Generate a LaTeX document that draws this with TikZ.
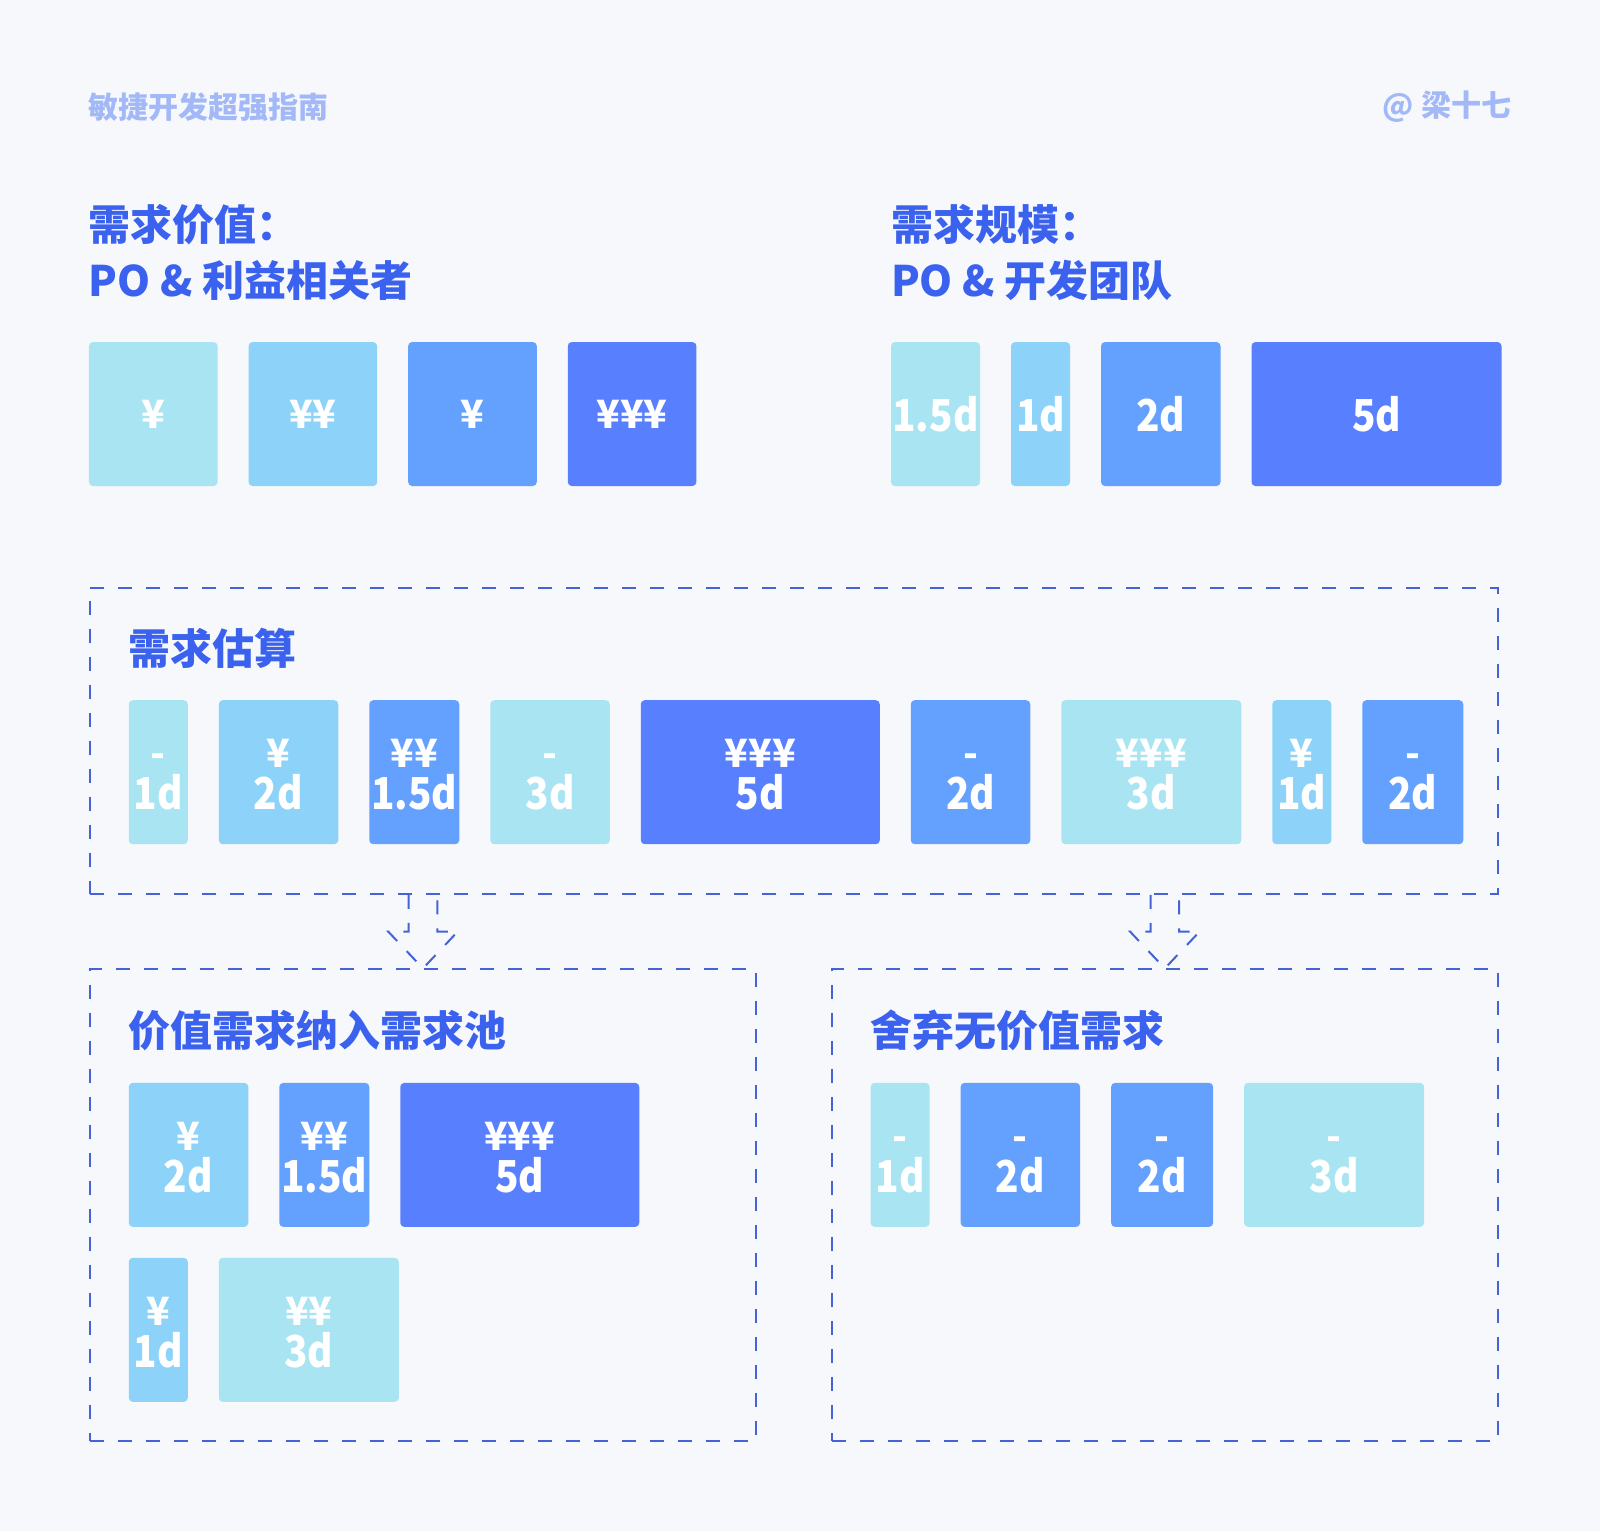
\documentclass[tikz,border=0pt]{standalone}
\usepackage{fontspec}
\setmainfont{Noto Sans CJK SC}
\newfontfamily\numfont{Noto Sans CJK SC}[FakeStretch=0.88]
\usetikzlibrary{positioning, fit, calc}

\definecolor{bgc}{HTML}{F7F8FC}
\definecolor{cyanc}{HTML}{A8E4F2}
\definecolor{skyc}{HTML}{8CD2F9}
\definecolor{midc}{HTML}{64A0FD}
\definecolor{deepc}{HTML}{587FFD}
\definecolor{titlec}{HTML}{3B62EE}
\definecolor{headc}{HTML}{A3B9F7}
\definecolor{linec}{HTML}{4463D6}

\newcommand\yenfont{\normalfont\bfseries\fontsize{39}{42}\selectfont}
\newcommand\lift{\rule{0pt}{34pt}}
\newcommand\twoline[2]{{\yenfont\lift#1}\\{\lift#2}}

\begin{document}
\begin{tikzpicture}[x=1.0204pt, y=-1.0204pt, node distance=30.6pt,
  every node/.style={font=\bfseries},
  blk/.style={fill=#1, rounded corners=4pt, text=white, inner sep=0pt, minimum height=144pt, align=center, font=\numfont\bfseries\fontsize{44}{42}\selectfont},
  frame/.style={draw=linec, line width=2pt, dash pattern=on 14pt off 14pt, inner sep=0pt},
  ttl/.style={text=titlec, font=\bfseries\fontsize{42}{56}\selectfont, inner sep=0pt, anchor=west},
  head/.style={text=headc, font=\bfseries\fontsize{30}{30}\selectfont, inner sep=0pt},
  wv/.style={minimum width=128.6pt},
  w1/.style={minimum width=59pt},
  w15/.style={minimum width=90pt},
  w2/.style={minimum width=119.5pt},
  w3/.style={minimum width=180pt},
  w5/.style={minimum width=239pt}]

% Background
\fill[bgc] (0,0) rectangle (1568,1500.4);
\useasboundingbox (0,0) rectangle (1568,1500.4);

% Header
\node (guide) [head, anchor=west] at (87,105) {敏捷开发超强指南};
\node (author) [head, anchor=east] at (1481,105) {@ 梁十七};

% Value
\node (valt) [ttl] at (87,220) {需求价值：};
\node (valt2) [ttl] at (87,275) {PO \& 利益相关者};
\node (v1) [blk=cyanc, wv, anchor=north west] at (87,335) {\yenfont ¥};
\node (v2) [blk=skyc, wv, right=of v1] {\yenfont ¥¥};
\node (v3) [blk=midc, wv, right=of v2] {\yenfont ¥};
\node (v4) [blk=deepc, wv, right=of v3] {\yenfont ¥¥¥};

% Size
\node (sizet) [ttl] at (873,220) {需求规模：};
\node (sizet2) [ttl] at (873,275) {PO \& 开发团队};
\node (s1) [blk=cyanc, minimum width=89pt, anchor=north west] at (873,335) {1.5d};
\node (s2) [blk=skyc, w1, right=of s1] {1d};
\node (s3) [blk=midc, w2, right=of s2] {2d};
\node (s4) [blk=deepc, minimum width=250pt, right=of s3] {5d};

% Estimation
\node (est) [frame, fit={(88,576) (1468,876)}] {};
\node (estt) [ttl] at (126,635) {需求估算};
\node (e1) [blk=cyanc, w1, anchor=north west] at (126,686) {\twoline{-}{1d}};
\node (e2) [blk=skyc, w2, right=of e1] {\twoline{¥}{2d}};
\node (e3) [blk=midc, w15, right=of e2] {\twoline{¥¥}{1.5d}};
\node (e4) [blk=cyanc, w2, right=of e3] {\twoline{-}{3d}};
\node (e5) [blk=deepc, w5, right=of e4] {\twoline{¥¥¥}{5d}};
\node (e6) [blk=midc, w2, right=of e5] {\twoline{-}{2d}};
\node (e7) [blk=cyanc, w3, right=of e6] {\twoline{¥¥¥}{3d}};
\node (e8) [blk=skyc, w1, right=of e7] {\twoline{¥}{1d}};
\node (e9) [blk=midc, minimum width=101pt, right=of e8] {\twoline{-}{2d}};

% Backlog
\node (pool) [frame, fit={(88,950) (741,1412)}] {};
\node (poolt) [ttl] at (126,1010) {价值需求纳入需求池};
\node (p1) [blk=skyc, w2, anchor=north west] at (126,1061) {\twoline{¥}{2d}};
\node (p2) [blk=midc, w15, right=of p1] {\twoline{¥¥}{1.5d}};
\node (p3) [blk=deepc, w5, right=of p2] {\twoline{¥¥¥}{5d}};
\node (p4) [blk=skyc, w1, below=of p1.south west, anchor=north west] {\twoline{¥}{1d}};
\node (p5) [blk=cyanc, w3, right=of p4] {\twoline{¥¥}{3d}};

% Dropped
\node (drop) [frame, fit={(815,950) (1468,1412)}] {};
\node (dropt) [ttl] at (853,1010) {舍弃无价值需求};
\node (d1) [blk=cyanc, w1, anchor=north west] at (853,1061) {\twoline{-}{1d}};
\node (d2) [blk=midc, w2, right=of d1] {\twoline{-}{2d}};
\node (d3) [blk=midc, minimum width=102pt, right=of d2] {\twoline{-}{2d}};
\node (d4) [blk=cyanc, w3, right=of d3] {\twoline{-}{3d}};

% Arrows
\draw[frame] ($(est.south -| pool.north)+(-14,0)$) -- ++(0,36) -- ++(-20,0) -- (pool.north) -- ++(34,-36) -- ++(-20,0) -- ++(0,-36);
\draw[frame] ($(est.south -| drop.north)+(-14,0)$) -- ++(0,36) -- ++(-20,0) -- (drop.north) -- ++(34,-36) -- ++(-20,0) -- ++(0,-36);

\end{tikzpicture}
\end{document}
